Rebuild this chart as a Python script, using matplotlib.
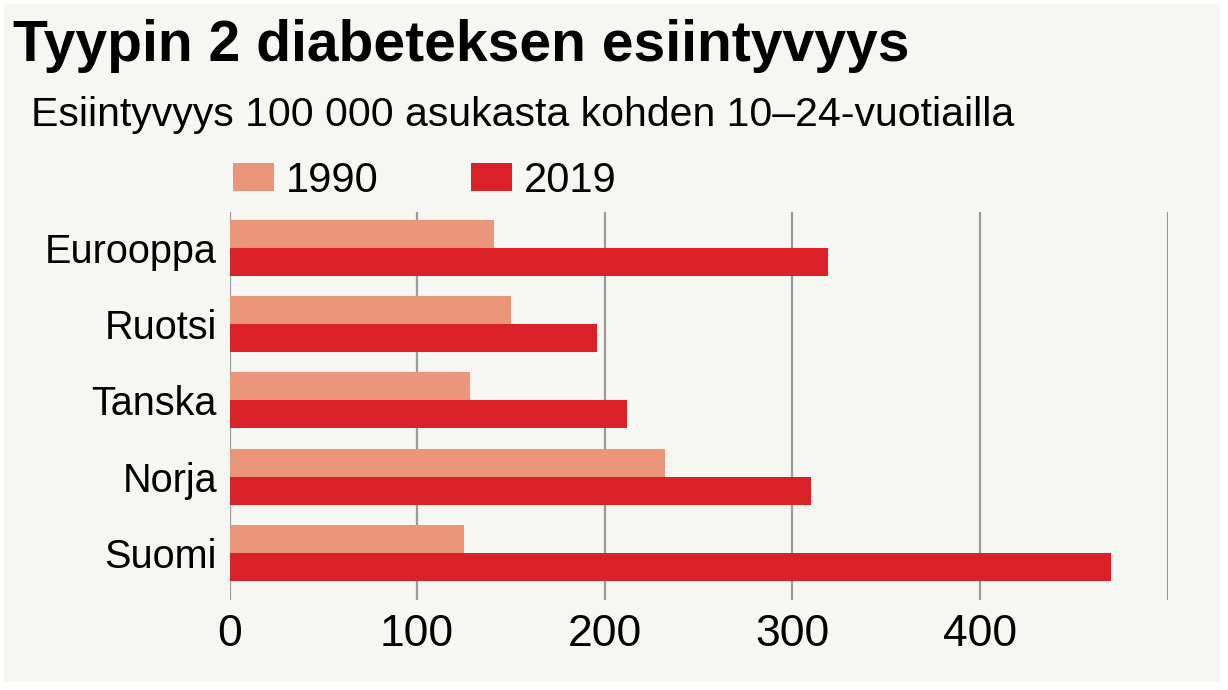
import matplotlib
matplotlib.use('Agg')
import matplotlib.pyplot as plt
import numpy as np
from matplotlib.patches import Rectangle

# Data
countries = ['Eurooppa', 'Ruotsi', 'Tanska', 'Norja', 'Suomi']
values_1990 = [141, 150, 128, 232, 125]
values_2019 = [319, 196, 212, 310, 470]
series_labels = ['1990', '2019']
x_ticks = [0, 100, 200, 300, 400, 500]
x_ticklabels = ['0', '100', '200', '300', '400', '']

title = 'Tyypin 2 diabeteksen esiintyvyys'
subtitle = 'Esiintyvyys 100 000 asukasta kohden 10\u201324-vuotiailla'

# Colours
bg_color = '#f6f6f2'
color_1990 = '#eb967a'
color_2019 = '#da2128'
grid_color = '#9a9a9a'

font = 'Liberation Sans'

fig = plt.figure(figsize=(12.28, 6.9), dpi=100, facecolor='white')

# Off-white panel with a thin white margin
fig.add_artist(Rectangle((4 / 1228, 1 - 682 / 690), (1220 - 4) / 1228, (682 - 4) / 690,
                         transform=fig.transFigure, facecolor=bg_color, edgecolor='none', zorder=0))

ax = fig.add_axes([229.5 / 1228, 1 - 600 / 690, (1167.5 - 229.5) / 1228, (600 - 212) / 690])
ax.set_facecolor('none')

y = np.arange(len(countries))
bar_h = 0.367
ax.barh(y - bar_h / 2, values_1990, height=bar_h, color=color_1990, label=series_labels[0], zorder=3)
ax.barh(y + bar_h / 2, values_2019, height=bar_h, color=color_2019, label=series_labels[1], zorder=3)

ax.set_xlim(0, 500)
ax.set_ylim(4.616, -0.468)

# Vertical gridlines only
for spine in ax.spines.values():
    spine.set_visible(False)
ax.set_xticks(x_ticks)
ax.set_xticklabels(x_ticklabels, fontsize=32, fontname=font)
ax.xaxis.grid(True, color=grid_color, linewidth=1.6, zorder=0)
ax.set_axisbelow(True)
ax.set_yticks(y)
ax.set_yticklabels(countries, fontsize=28.5, fontname=font)
ax.tick_params(axis='x', length=0, pad=10)
ax.tick_params(axis='y', length=0, pad=9)

# Legend above the plot
leg = ax.legend(loc='center left', bbox_to_anchor=(233 / 1228, 1 - 180.5 / 690),
                bbox_transform=fig.transFigure, ncol=2, frameon=False,
                prop={'family': font, 'size': 30},
                handlelength=0.98, handleheight=0.65, handletextpad=0.3,
                columnspacing=2.2, borderpad=0, borderaxespad=0)

# Title and subtitle
fig.text(13 / 1228, 1 - 61 / 690, title, fontsize=41, fontweight='bold',
         fontname=font, va='baseline', ha='left')
fig.text(31 / 1228, 1 - 126 / 690, subtitle, fontsize=29.5,
         fontname=font, va='baseline', ha='left')

plt.savefig('out.png', dpi=100, facecolor='white')
